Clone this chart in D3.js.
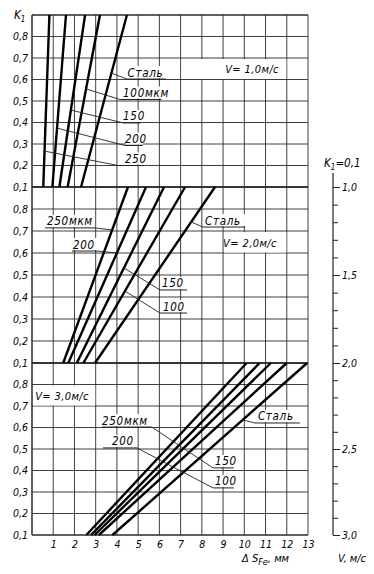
<!DOCTYPE html>
<html>
<head>
<meta charset="utf-8">
<script src="https://cdn.jsdelivr.net/npm/d3@7"></script>
<style>
  body { margin: 0; background: #fff; }
  svg text { font-family: "DejaVu Sans Condensed", "DejaVu Sans", sans-serif; font-style: italic; fill: #000; }
</style>
</head>
<body>
<div id="container"></div>
<script>
/* DATA */
const speeds = ["1,0", "2,0", "3,0"];                 // V, m/s of each panel (top to bottom)
const seriesNames = ["250", "200", "150", "100", "Сталь"];
const kTicks = [0.1, 0.2, 0.3, 0.4, 0.5, 0.6, 0.7, 0.8];
const xTicks = [1, 2, 3, 4, 5, 6, 7, 8, 9, 10, 11, 12, 13];
const vTicks = [1.0, 1.1, 1.2, 1.3, 1.4, 1.5, 1.6, 1.7, 1.8, 1.9, 2.0,
                2.1, 2.2, 2.3, 2.4, 2.5, 2.6, 2.7, 2.8, 2.9, 3.0];
const vMajor = [1.0, 1.5, 2.0, 2.5, 3.0];

// ΔS_Fe (mm) where each line meets K1 = 0.1 and K1 = 0.9
// order: 250, 200, 150, 100 мкм, Сталь
const v1AtK01 = [0.53, 0.96, 1.29, 1.68, 2.31];
const v1AtK09 = [0.82, 1.60, 2.50, 3.20, 4.47];
const v2AtK01 = [1.47, 1.71, 2.11, 2.42, 2.97];
const v2AtK09 = [4.52, 5.37, 6.22, 7.21, 8.62];
const v3AtK01 = [2.56, 2.78, 2.95, 3.15, 3.79];
const v3AtK09 = [10.11, 10.72, 11.25, 12.00, 12.96];

/* LAYOUT */
const width = 374, height = 574;
const plot = { left: 32, right: 308, top: 15, bottom: 535 };
const panelEdges = [15, 187, 363, 535];
const lowEnds = [v1AtK01, v2AtK01, v3AtK01];
const highEnds = [v1AtK09, v2AtK09, v3AtK09];

// labels with leaders, in data units (x in mm, k = K1 of the panel)
const notes = [
  { p: 0, s: 4, text: "Сталь",  tk: 0.630, uk: 0.602, x0: 4.47, x1: 6.31, tx: 4.50 },
  { p: 0, s: 3, text: "100мкм", tk: 0.556, uk: 0.507, x0: 4.15, x1: 6.10, tx: 4.29 },
  { p: 0, s: 2, text: "150",    tk: 0.458, uk: 0.398, x0: 4.29, x1: 5.13, tx: 4.29 },
  { p: 0, s: 1, text: "200",    tk: 0.374, uk: 0.293, x0: 4.38, x1: 5.22, tx: 4.38 },
  { p: 0, s: 0, text: "250",    tk: 0.267, uk: 0.200, x0: 4.05, x1: 5.23, tx: 4.38 },
  { p: 1, s: 0, text: "250мкм", tk: 0.705, uk: 0.714, x0: 0.61, x1: 2.97, tx: 0.71 },
  { p: 1, s: 1, text: "200",    tk: 0.600, uk: 0.609, x0: 1.88, x1: 3.06, tx: 1.93 },
  { p: 1, s: 2, text: "150",    tk: 0.532, uk: 0.432, x0: 6.03, x1: 7.30, tx: 6.12 },
  { p: 1, s: 3, text: "100",    tk: 0.427, uk: 0.327, x0: 6.03, x1: 7.30, tx: 6.17 },
  { p: 1, s: 4, text: "Сталь",  tk: 0.741, uk: 0.718, x0: 8.05, x1: 10.03, tx: 8.15 },
  { p: 2, s: 2, text: "250мкм", tk: 0.503, uk: 0.602, x0: 3.30, x1: 5.65, tx: 3.30 },
  { p: 2, s: 3, text: "200",    tk: 0.416, uk: 0.505, x0: 3.34, x1: 4.95, tx: 3.77 },
  { p: 2, s: 2, text: "150",    tk: 0.503, uk: 0.412, x0: 8.53, x1: 9.51, tx: 8.62 },
  { p: 2, s: 3, text: "100",    tk: 0.416, uk: 0.319, x0: 8.53, x1: 9.51, tx: 8.62 },
  { p: 2, s: 4, text: "Сталь",  tk: 0.635, uk: 0.621, x0: 10.50, x1: 12.62, tx: 10.64 }
];
const speedBoxes = [
  { x0: 7, x1: 12, k0: 0.6, k1: 0.7, tx: 9.1 },
  { x0: 9, x1: 12, k0: 0.6, k1: 0.7, tx: 9.0 },
  { x0: 0, x1: 3,  k0: 0.7, k1: 0.8, tx: 0.15 }
];

/* SCALES */
const xScale = d3.scaleLinear().domain([0, 13]).range([plot.left, plot.right]);
const kScales = [0, 1, 2].map(i =>
  d3.scaleLinear().domain([0.1, 0.9]).range([panelEdges[i + 1], panelEdges[i]]));
const vScale = d3.scaleLinear().domain([1, 2, 3]).range([187, 363, 535]);
const comma = d => d3.format(".1f")(d).replace(".", ",");

const svg = d3.select("#container").append("svg")
  .attr("width", width).attr("height", height);

/* GRID */
const grid = svg.append("g").attr("stroke", "#2a2a2a").attr("stroke-width", 0.9);
grid.selectAll("line.v").data(d3.range(0, 14)).join("line")
  .attr("x1", d => xScale(d)).attr("x2", d => xScale(d))
  .attr("y1", plot.top).attr("y2", plot.bottom)
  .attr("stroke-width", d => d === 0 ? 1.5 : 0.9);
kScales.forEach(ks => {
  grid.append("g").selectAll("line").data(kTicks.concat([0.9])).join("line")
    .attr("x1", plot.left).attr("x2", plot.right)
    .attr("y1", d => ks(d)).attr("y2", d => ks(d))
    .attr("stroke-width", d => (d === 0.1 || d === 0.9) ? 1.4 : 0.9);
});

// white patches behind the labels
notes.forEach(n => {
  const ks = kScales[n.p];
  svg.append("rect")
    .attr("x", xScale(n.x0) + 1).attr("width", xScale(n.x1) - xScale(n.x0) - 1)
    .attr("y", ks(n.uk) - 13).attr("height", 12)
    .attr("fill", "#fff");
});
speedBoxes.forEach((b, i) => {
  const ks = kScales[i];
  svg.append("rect")
    .attr("x", xScale(b.x0) + 1).attr("width", xScale(b.x1) - xScale(b.x0) - 1.5)
    .attr("y", ks(b.k1) + 1).attr("height", ks(b.k0) - ks(b.k1) - 1.5)
    .attr("fill", "#fff");
  svg.append("text")
    .attr("x", xScale(b.tx)).attr("y", (ks(b.k0) + ks(b.k1)) / 2 + 4.5)
    .attr("font-size", 11).attr("letter-spacing", 0.4)
    .text("V= " + speeds[i] + "м/с");
});

/* LINES */
const lineGen = d3.line().x(d => xScale(d[0]));
[0, 1, 2].forEach(p => {
  const ks = kScales[p];
  const rows = seriesNames.map((name, s) => [[lowEnds[p][s], 0.1], [highEnds[p][s], 0.9]]);
  svg.append("g").selectAll("path").data(rows).join("path")
    .attr("d", d => lineGen.y(q => ks(q[1]))(d))
    .attr("fill", "none").attr("stroke", "#000").attr("stroke-width", 2.4);
});

/* LEADERS AND LABELS */
notes.forEach(n => {
  const ks = kScales[n.p];
  const lo = lowEnds[n.p][n.s], hi = highEnds[n.p][n.s];
  const tx = lo + (hi - lo) * (n.tk - 0.1) / 0.8;
  const px = xScale(tx), py = ks(n.tk);
  const ux0 = xScale(n.x0), ux1 = xScale(n.x1), uy = ks(n.uk);
  const endX = Math.abs(px - ux0) < Math.abs(px - ux1) ? ux0 : ux1;
  svg.append("line").attr("x1", px).attr("y1", py).attr("x2", endX).attr("y2", uy)
    .attr("stroke", "#222").attr("stroke-width", 0.9);
  svg.append("line").attr("x1", ux0).attr("x2", ux1).attr("y1", uy).attr("y2", uy)
    .attr("stroke", "#222").attr("stroke-width", 1);
  svg.append("text").attr("x", xScale(n.tx)).attr("y", uy - 2.5)
    .attr("font-size", 11.5).attr("letter-spacing", 0.7).text(n.text);
});

/* AXES */
kScales.forEach(ks => {
  const ax = svg.append("g").attr("transform", `translate(${plot.left},0)`)
    .call(d3.axisLeft(ks).tickValues(kTicks).tickSize(0).tickPadding(4).tickFormat(comma));
  ax.select(".domain").remove();
  ax.selectAll("text").attr("font-size", 10.5).style("font-family", null);
});
const k1 = svg.append("text").attr("x", 14).attr("y", 19).attr("font-size", 11.5);
k1.append("tspan").text("K");
k1.append("tspan").attr("dy", 3).attr("font-size", 8).text("1");

const xAx = svg.append("g").attr("transform", `translate(0,${plot.bottom})`)
  .call(d3.axisBottom(xScale).tickValues(xTicks).tickSize(0).tickPadding(6));
xAx.select(".domain").remove();
xAx.selectAll("text").attr("font-size", 10.5);

const vAx = svg.append("g").attr("transform", "translate(333,0)")
  .call(d3.axisRight(vScale).tickValues(vTicks).tickSize(5).tickPadding(4)
    .tickFormat(d => vMajor.some(m => Math.abs(m - d) < 1e-6) ? comma(d) : ""));
vAx.select(".domain").remove();
vAx.selectAll(".tick line")
  .attr("x2", d => vMajor.some(m => Math.abs(m - d) < 1e-6) ? 7 : 5)
  .attr("stroke", "#222");
vAx.selectAll("text").attr("font-size", 10.5).attr("x", 9);
vAx.append("line").attr("x1", 0).attr("x2", 0).attr("y1", 173).attr("y2", vScale(3))
  .attr("stroke", "#222").attr("stroke-width", 1.2);

const kt = svg.append("text").attr("x", 324).attr("y", 167).attr("font-size", 11.5);
kt.append("tspan").text("K");
kt.append("tspan").attr("dy", 3).attr("font-size", 8).text("1");
kt.append("tspan").attr("dy", -3).text("=0,1");

svg.append("text").attr("x", 338).attr("y", 562).attr("font-size", 11).text("V, м/с");
const ds = svg.append("text").attr("x", 242).attr("y", 562).attr("font-size", 11);
ds.append("tspan").text("Δ S");
ds.append("tspan").attr("dy", 3).attr("font-size", 9).text("Fe");
ds.append("tspan").attr("dy", -3).text(", мм");
</script>
</body>
</html>
